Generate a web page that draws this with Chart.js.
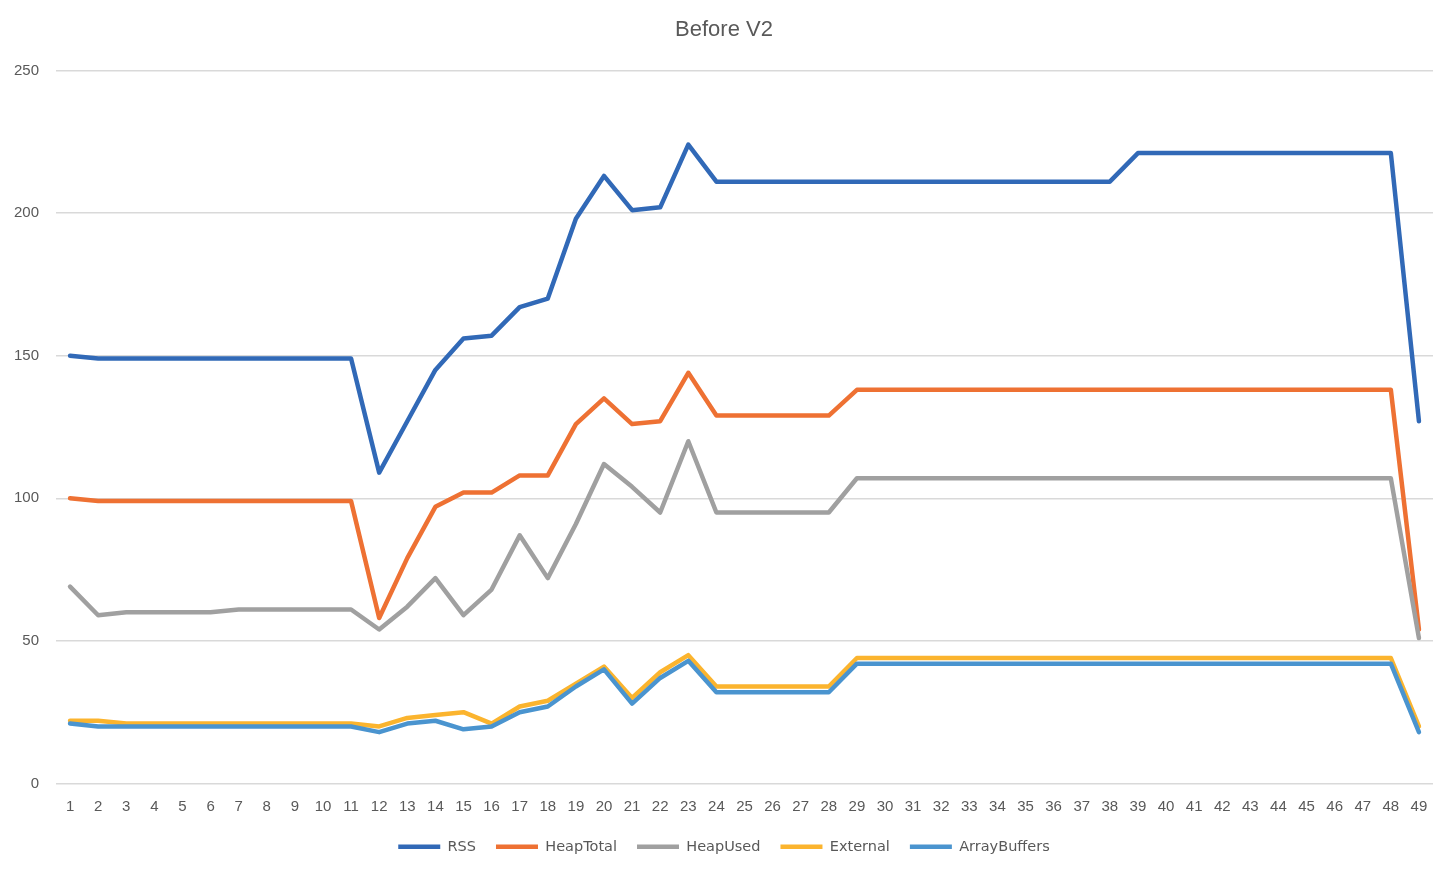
<!DOCTYPE html>
<html>
<head>
<meta charset="utf-8">
<script src="https://cdn.jsdelivr.net/npm/chart.js@4"></script>
<style>
html,body{margin:0;padding:0;background:#fff;}
#wrap{width:1448px;height:870px;}
</style>
</head>
<body>
<div id="wrap"><canvas id="c" width="1448" height="870"></canvas></div>
<script>
const categories = Array.from({length: 49}, (_, i) => String(i + 1));
const titleText = "Before V2";
const yTicks = [0, 50, 100, 150, 200, 250];

const rss = [150,149,149,149,149,149,149,149,149,149,149,109,127,145,156,157,167,170,198,213,201,202,224,211,211,211,211,211,211,211,211,211,211,211,211,211,211,211,221,221,221,221,221,221,221,221,221,221,127];
const heapTotal = [100,99,99,99,99,99,99,99,99,99,99,58,79,97,102,102,108,108,126,135,126,127,144,129,129,129,129,129,138,138,138,138,138,138,138,138,138,138,138,138,138,138,138,138,138,138,138,138,54];
const heapUsed = [69,59,60,60,60,60,61,61,61,61,61,54,62,72,59,68,87,72,91,112,104,95,120,95,95,95,95,95,107,107,107,107,107,107,107,107,107,107,107,107,107,107,107,107,107,107,107,107,51];
const external = [22,22,21,21,21,21,21,21,21,21,21,20,23,24,25,21,27,29,35,41,30,39,45,34,34,34,34,34,44,44,44,44,44,44,44,44,44,44,44,44,44,44,44,44,44,44,44,44,20];
const arrayBuffers = [21,20,20,20,20,20,20,20,20,20,20,18,21,22,19,20,25,27,34,40,28,37,43,32,32,32,32,32,42,42,42,42,42,42,42,42,42,42,42,42,42,42,42,42,42,42,42,42,18];

const seriesNames = ["RSS", "HeapTotal", "HeapUsed", "External", "ArrayBuffers"];
const seriesColors = ["#3169B7", "#EE7133", "#A0A0A0", "#FBB42E", "#4A94CF"];
const seriesValues = [rss, heapTotal, heapUsed, external, arrayBuffers];

const FONT = "'Liberation Sans', 'DejaVu Sans', sans-serif";
const TXT = "#595959";

const datasets = seriesNames.map((name, i) => ({
  label: name,
  data: seriesValues[i],
  borderColor: seriesColors[i],
  backgroundColor: seriesColors[i],
  borderWidth: 4.5,
  pointRadius: 0,
  pointHoverRadius: 0,
  tension: 0,
  fill: false,
  borderCapStyle: 'round',
  borderJoinStyle: 'round',
  order: seriesNames.length - 1 - i
}));

new Chart(document.getElementById('c'), {
  type: 'line',
  data: { labels: categories, datasets: datasets },
  options: {
    responsive: false,
    animation: false,
    layout: { padding: { left: 0, right: 0, top: 0, bottom: 6 } },
    plugins: {
      title: {
        display: true,
        text: titleText,
        color: TXT,
        font: { family: FONT, size: 22, weight: 'normal' },
        padding: { top: 17, bottom: 27 }
      },
      legend: {
        position: 'bottom',
        labels: {
          color: TXT,
          font: { family: "'DejaVu Sans', sans-serif", size: 14.5 },
          usePointStyle: true,
          pointStyle: 'line',
          pointStyleWidth: 42,
          boxHeight: 5,
          padding: 20,
          sort: (a, b) => a.datasetIndex - b.datasetIndex
        }
      },
      tooltip: { enabled: false }
    },
    scales: {
      x: {
        offset: true,
        grid: { display: false, drawTicks: false },
        border: { display: false },
        ticks: { color: TXT, font: { family: FONT, size: 15 }, padding: 14, maxRotation: 0, autoSkip: false },
        afterFit: (s) => { s.height = 36; }
      },
      y: {
        min: 0,
        max: 250,
        afterBuildTicks: (s) => { s.ticks = yTicks.map(v => ({ value: v })); },
        grid: { color: "#D9D9D9", lineWidth: 1.5, drawTicks: false },
        border: { display: false },
        ticks: { color: TXT, font: { family: FONT, size: 15 }, padding: 17 },
        afterFit: (s) => { s.width = 56; }
      },
      yRightSpacer: {
        position: 'right',
        display: true,
        grid: { display: false, drawTicks: false },
        border: { display: false },
        ticks: { display: false },
        afterFit: (s) => { s.width = 15; }
      }
    }
  }
});
</script>
</body>
</html>
